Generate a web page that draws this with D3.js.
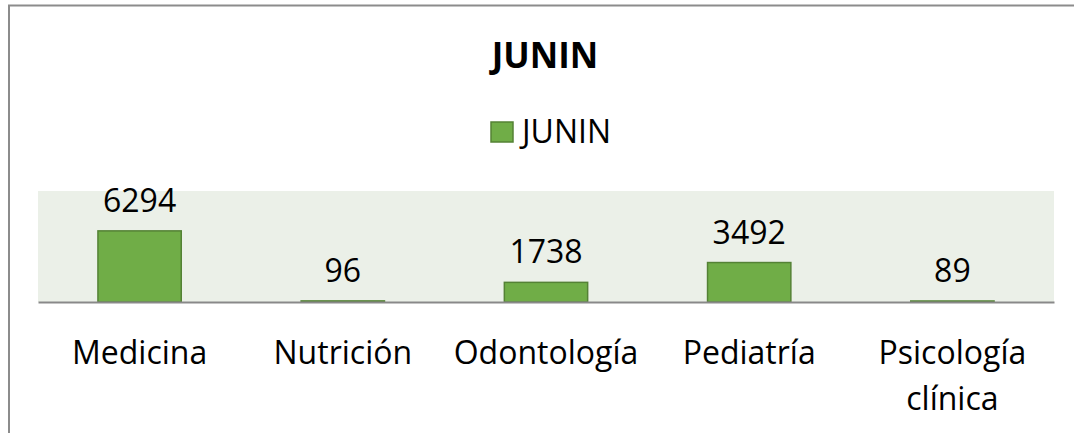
<!DOCTYPE html>
<html>
<head>
<meta charset="utf-8">
<script src="https://cdn.jsdelivr.net/npm/d3@7"></script>
<style>
  html, body { margin: 0; padding: 0; background: #fff; }
  svg { display: block; }
  text { font-family: "Open Sans", "Noto Sans", sans-serif; fill: #000; }
</style>
</head>
<body>
<svg id="chart" width="1074" height="433"></svg>
<script>
const title = "JUNIN";
const seriesName = "JUNIN";
const categories = ["Medicina", "Nutrición", "Odontología", "Pediatría", "Psicología clínica"];
const values = [6294, 96, 1738, 3492, 89];

const svg = d3.select("#chart");
const W = 1074, H = 433;

// chart border (extends past right/bottom edges as in reference)
svg.append("rect")
  .attr("x", 9).attr("y", 5.5)
  .attr("width", 1100).attr("height", 460)
  .attr("fill", "#fff").attr("stroke", "#8c8c8c").attr("stroke-width", 2);

const plot = { left: 38, right: 1054, top: 191, bottom: 302 };

const x = d3.scaleBand()
  .domain(categories)
  .range([plot.left, plot.right])
  .paddingInner(0.59)
  .paddingOuter(0.295);

const y = d3.scaleLinear()
  .domain([0, 10000])
  .range([plot.bottom, 189]);

// plot background
svg.append("rect")
  .attr("x", plot.left).attr("y", plot.top)
  .attr("width", plot.right - plot.left).attr("height", plot.bottom - plot.top)
  .attr("fill", "#ebf0e8");

// bars
svg.selectAll("rect.bar")
  .data(values)
  .enter().append("rect")
  .attr("class", "bar")
  .attr("x", (d, i) => x(categories[i]))
  .attr("y", d => y(d))
  .attr("width", x.bandwidth())
  .attr("height", d => y(0) - y(d))
  .attr("fill", "#70ad47")
  .attr("stroke", "#548235")
  .attr("stroke-width", 1.5);

// baseline axis
const xAxis = d3.axisBottom(x).tickSize(0).tickFormat("");
const axisG = svg.append("g")
  .attr("transform", `translate(0,${y(0)})`)
  .call(xAxis);
axisG.select(".domain").attr("stroke", "#898989").attr("stroke-width", 2);

// value labels
svg.selectAll("text.val")
  .data(values)
  .enter().append("text")
  .attr("class", "val")
  .attr("x", (d, i) => x(categories[i]) + x.bandwidth() / 2)
  .attr("y", d => y(d) - 19)
  .attr("text-anchor", "middle")
  .attr("font-size", 32)
  .text(d => d);

// category labels (wrap at space for long ones)
categories.forEach((c, i) => {
  const cx = x(c) + x.bandwidth() / 2;
  const words = c.split(" ");
  const lines = c.length > 12 ? words : [c];
  const t = svg.append("text")
    .attr("x", cx).attr("y", 364)
    .attr("text-anchor", "middle")
    .attr("font-size", 32);
  lines.forEach((l, j) => {
    t.append("tspan").attr("x", cx).attr("dy", j === 0 ? 0 : 45.5).text(l);
  });
});

// title
svg.append("text")
  .attr("x", 545).attr("y", 67.5)
  .attr("text-anchor", "middle")
  .attr("font-size", 35)
  .attr("font-weight", "bold")
  .text(title);

// legend
svg.append("rect")
  .attr("x", 491).attr("y", 122)
  .attr("width", 22).attr("height", 20)
  .attr("fill", "#70ad47").attr("stroke", "#548235").attr("stroke-width", 1.5);
svg.append("text")
  .attr("x", 522).attr("y", 143.3)
  .attr("font-size", 32)
  .text(seriesName);
</script>
</body>
</html>
